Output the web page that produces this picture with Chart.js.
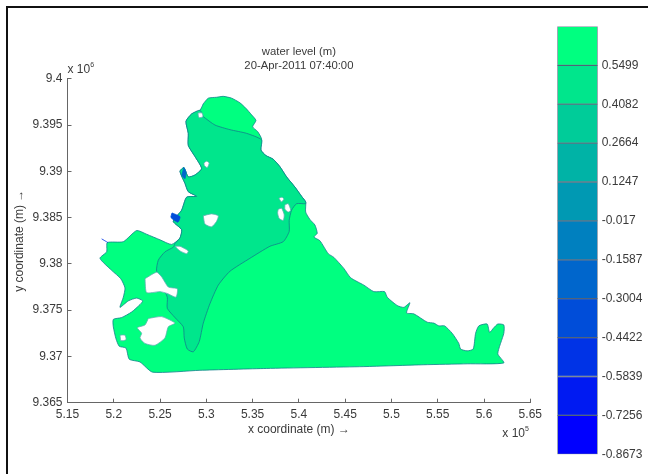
<!DOCTYPE html>
<html>
<head>
<meta charset="utf-8">
<title>water level (m)</title>
<script src="https://cdn.jsdelivr.net/npm/chart.js@4"></script>
<style>
    html, body { margin: 0; padding: 0; background: #fff; }
    #page { position: relative; width: 648px; height: 474px; overflow: hidden; }
    #frame { position: absolute; left: 6px; top: 6px; right: -4px; bottom: -4px; border-top: 2px solid #111; border-left: 2px solid #111; }
    #mapChart { position: absolute; left: 0; top: 0; }
    #barChart { position: absolute; left: 540px; top: 0; }
</style>
</head>
<body>
<div id="page">
    <canvas id="mapChart" width="648" height="474"></canvas>
    <canvas id="barChart" width="108" height="474"></canvas>
    <div id="frame"></div>
</div>
<script>
const xTicks = [5.15, 5.2, 5.25, 5.3, 5.35, 5.4, 5.45, 5.5, 5.55, 5.6, 5.65];
const yTicks = [9.365, 9.37, 9.375, 9.38, 9.385, 9.39, 9.395, 9.4];

// Contour levels, top of the colour bar first
const levels = [0.6916, 0.5499, 0.4082, 0.2664, 0.1247, -0.017, -0.1587, -0.3004, -0.4422, -0.5839, -0.7256, -0.8673];
const bandColors = ['#00ff80', '#00e68c', '#00cc99', '#00b3a6', '#0099b3', '#0080bf', '#0066cc', '#004dd9', '#0033e6', '#001af2', '#0000ff'];

// Model domain outline (x in 1e5 m, y in 1e6 m)
const coastX = [5.2967, 5.3021, 5.3111, 5.3183, 5.3273, 5.3363, 5.3428, 5.3489, 5.3536, 5.35, 5.3554, 5.3597, 5.359, 5.3644, 5.3723, 5.3795, 5.3867, 5.3957, 5.4029, 5.4073, 5.4073, 5.4119, 5.4173, 5.4198, 5.4162, 5.4227, 5.4317, 5.4378, 5.4486, 5.4559, 5.4702, 5.481, 5.4926, 5.4954, 5.5062, 5.5134, 5.5199, 5.5163, 5.5242, 5.5386, 5.5458, 5.5512, 5.5574, 5.5656, 5.5728, 5.5747, 5.5818, 5.5883, 5.5909, 5.5944, 5.6034, 5.606, 5.6106, 5.6149, 5.6214, 5.6214, 5.6149, 5.6214, 5.5818, 5.535, 5.4702, 5.3651, 5.2931, 5.242, 5.2283, 5.2167, 5.2132, 5.2059, 5.2024, 5.1995, 5.1995, 5.2085, 5.2193, 5.2283, 5.2312, 5.2247, 5.2157, 5.2067, 5.2103, 5.2121, 5.2075, 5.1977, 5.1851, 5.1923, 5.193, 5.2103, 5.2247, 5.2355, 5.2499, 5.2625, 5.2715, 5.2733, 5.2643, 5.2733, 5.2787, 5.2895, 5.2805, 5.2769, 5.2715, 5.2758, 5.2805, 5.2877, 5.2949, 5.2877, 5.2805, 5.2805, 5.278, 5.2841, 5.2931, 5.2967];
const coastY = [9.3973, 9.3979, 9.398, 9.3981, 9.3979, 9.3974, 9.3968, 9.3961, 9.3955, 9.3948, 9.3943, 9.3935, 9.3923, 9.3917, 9.3913, 9.3905, 9.3894, 9.3883, 9.3873, 9.3867, 9.3856, 9.3848, 9.3842, 9.3833, 9.3829, 9.3825, 9.3811, 9.3807, 9.3795, 9.3785, 9.3777, 9.377, 9.377, 9.3764, 9.3755, 9.3753, 9.3758, 9.3747, 9.3746, 9.3737, 9.3736, 9.3733, 9.3733, 9.3725, 9.3714, 9.3708, 9.3706, 9.3708, 9.3725, 9.3733, 9.3735, 9.3726, 9.3731, 9.3735, 9.3734, 9.3725, 9.3703, 9.3693, 9.3692, 9.3691, 9.3689, 9.3687, 9.3685, 9.3683, 9.3694, 9.3697, 9.3709, 9.3711, 9.3719, 9.3732, 9.374, 9.3742, 9.3748, 9.3756, 9.376, 9.3763, 9.376, 9.3753, 9.3764, 9.3774, 9.3784, 9.3793, 9.3806, 9.3813, 9.3823, 9.3824, 9.3836, 9.3832, 9.3826, 9.3821, 9.3828, 9.3837, 9.3846, 9.3858, 9.3872, 9.3873, 9.3878, 9.3887, 9.39, 9.3904, 9.3894, 9.3896, 9.3903, 9.3916, 9.3928, 9.3941, 9.3954, 9.3962, 9.3966, 9.3973];

// Area in the 0.4082 - 0.5499 band
const basinX = [5.2967, 5.3093, 5.3255, 5.3435, 5.3597, 5.359, 5.3644, 5.3723, 5.3795, 5.3867, 5.3957, 5.4029, 5.4073, 5.4073, 5.3975, 5.3921, 5.3895, 5.3895, 5.3831, 5.3687, 5.3471, 5.3255, 5.3129, 5.3039, 5.2967, 5.2923, 5.2859, 5.2794, 5.2761, 5.2751, 5.2661, 5.2578, 5.2578, 5.2463, 5.2481, 5.2553, 5.2643, 5.2661, 5.2715, 5.2733, 5.2643, 5.2733, 5.2787, 5.2895, 5.2805, 5.2769, 5.2715, 5.2758, 5.2805, 5.2877, 5.2949, 5.2877, 5.2805, 5.2805, 5.278, 5.2841, 5.2931, 5.2967];
const basinY = [9.3959, 9.395, 9.3945, 9.3941, 9.3934, 9.3923, 9.3917, 9.3913, 9.3905, 9.3894, 9.3883, 9.3873, 9.3867, 9.3865, 9.3865, 9.3858, 9.3847, 9.3835, 9.3824, 9.3819, 9.3806, 9.3792, 9.3777, 9.3757, 9.3736, 9.3716, 9.3705, 9.3708, 9.372, 9.3732, 9.3742, 9.3752, 9.3764, 9.3792, 9.3804, 9.3813, 9.3818, 9.3822, 9.3828, 9.3837, 9.3846, 9.3858, 9.3872, 9.3873, 9.3878, 9.3887, 9.39, 9.3904, 9.3894, 9.3896, 9.3903, 9.3916, 9.3928, 9.3941, 9.3954, 9.3962, 9.3966, 9.3959];

// Islands
const islandAX = [5.2967, 5.3057, 5.3129, 5.3111, 5.3057, 5.2985, 5.2967];
const islandAY = [9.3852, 9.3854, 9.3852, 9.3846, 9.384, 9.3843, 9.3852];
const islandBX = [5.2974, 5.3003, 5.3031, 5.301, 5.298, 5.2974];
const islandBY = [9.3909, 9.3911, 9.3909, 9.3904, 9.3906, 9.3909];
const islandCX = [5.2909, 5.2953, 5.2963, 5.292, 5.2909];
const islandCY = [9.3963, 9.3963, 9.3959, 9.3958, 9.3963];
const islandDX = [5.3784, 5.3817, 5.3838, 5.3811, 5.3784];
const islandDY = [9.3871, 9.3872, 9.387, 9.3867, 9.3871];
const islandEX = [5.3849, 5.3885, 5.3911, 5.3885, 5.3849, 5.3849];
const islandEY = [9.3864, 9.3865, 9.3858, 9.3856, 9.3859, 9.3864];
const islandFX = [5.3777, 5.3813, 5.3841, 5.3831, 5.3787, 5.377, 5.3777];
const islandFY = [9.3859, 9.386, 9.3853, 9.3847, 9.3849, 9.3855, 9.3859];
const islandGX = [5.2661, 5.2715, 5.2805, 5.2787, 5.2715, 5.2661];
const islandGY = [9.3819, 9.3819, 9.3814, 9.3811, 9.3814, 9.3819];
const islandHX = [5.2337, 5.2463, 5.2517, 5.2589, 5.2686, 5.2672, 5.2578, 5.2499, 5.2355, 5.2337];
const islandHY = [9.3784, 9.3791, 9.3786, 9.3775, 9.3773, 9.3764, 9.3768, 9.377, 9.3769, 9.3784];
const islandIX = [5.2373, 5.2517, 5.2661, 5.2589, 5.2553, 5.2445, 5.2337, 5.2283, 5.2301, 5.2254, 5.2337, 5.2373];
const islandIY = [9.3741, 9.3743, 9.3736, 9.3732, 9.372, 9.3712, 9.3714, 9.372, 9.3725, 9.3731, 9.3734, 9.3741];
const islandJX = [5.2067, 5.2121, 5.2132, 5.2078, 5.2067];
const islandJY = [9.3723, 9.3723, 9.3718, 9.3717, 9.3723];

// Small low water patches along the coast
const patchAX = [5.2629, 5.2715, 5.2693, 5.2618, 5.2629];
const patchAY = [9.3855, 9.3851, 9.3845, 9.385, 9.3855];
const patchBX = [5.2758, 5.278, 5.2769, 5.2737, 5.2758];
const patchBY = [9.3904, 9.3899, 9.3892, 9.3896, 9.3904];
const patchCX = [5.1869, 5.1937];
const patchCY = [9.3827, 9.3823];

const FONT = 'Liberation Sans, Arial, sans-serif';
const TEXT = '#3a3a3a';
const EDGE = '#12808c';

const polygon = (xs, ys, fill, line) => ({
    data: xs.map((x, i) => ({ x, y: ys[i] })),
    showLine: true,
    fill: 'shape',
    backgroundColor: fill,
    borderColor: line,
    borderWidth: 0.8,
    pointRadius: 0,
    tension: 0.2
});

// First dataset is painted last
const islands = [
    [islandAX, islandAY], [islandBX, islandBY], [islandCX, islandCY], [islandDX, islandDY], [islandEX, islandEY],
    [islandFX, islandFY], [islandGX, islandGY], [islandHX, islandHY], [islandIX, islandIY], [islandJX, islandJY]
];
const mapDatasets = [
    polygon(patchAX, patchAY, bandColors[7], bandColors[7]),
    polygon(patchBX, patchBY, bandColors[6], bandColors[6]),
    polygon(patchCX, patchCY, bandColors[8], bandColors[8]),
    ...islands.map(([xs, ys]) => polygon(xs, ys, '#ffffff', '#5fb0b0')),
    polygon(basinX, basinY, bandColors[1], EDGE),
    polygon(coastX, coastY, bandColors[0], EDGE)
];

// MATLAB style exponent notes next to the axes
const exponentNotes = {
    id: 'exponentNotes',
    afterDraw(chart) {
        const { ctx, chartArea } = chart;
        const note = (x, y, base, exp) => {
            ctx.font = '12px ' + FONT;
            ctx.fillText(base, x, y);
            const w = ctx.measureText(base).width;
            ctx.font = '7px ' + FONT;
            ctx.fillText(exp, x + w, y - 5);
        };
        ctx.save();
        ctx.fillStyle = TEXT;
        ctx.textAlign = 'left';
        ctx.textBaseline = 'middle';
        note(chartArea.left, chartArea.top - 9, 'x 10', '6');
        note(chartArea.right - 28, chartArea.bottom + 31, 'x 10', '5');
        ctx.restore();
    }
};

new Chart(document.getElementById('mapChart'), {
    type: 'scatter',
    data: { datasets: mapDatasets },
    plugins: [exponentNotes],
    options: {
        responsive: false,
        animation: false,
        devicePixelRatio: 1,
        layout: { padding: { left: 12, right: 117.7, top: 45, bottom: 37.3 } },
        plugins: {
            legend: { display: false },
            tooltip: { enabled: false },
            title: {
                display: true,
                fullSize: false,
                text: ['water level (m)', '20-Apr-2011 07:40:00'],
                color: TEXT,
                font: { family: FONT, size: 11.3, weight: 'normal', lineHeight: 1.25 },
                padding: { top: 0, bottom: 5.5 }
            }
        },
        scales: {
            x: {
                type: 'linear',
                min: 5.15,
                max: 5.65,
                afterBuildTicks: axis => { axis.ticks = xTicks.map(value => ({ value })); },
                afterFit: axis => { axis.height = 34; },
                ticks: { color: TEXT, font: { family: FONT, size: 12 }, padding: 9, maxRotation: 0, autoSkip: false, callback: v => String(v) },
                grid: { drawOnChartArea: false, tickLength: -4, tickColor: '#666' },
                border: { color: '#666', width: 1 },
                title: { display: true, text: 'x coordinate (m) \u2192', color: TEXT, font: { family: FONT, size: 12 }, padding: 0 }
            },
            y: {
                type: 'linear',
                min: 9.365,
                max: 9.4,
                afterBuildTicks: axis => { axis.ticks = yTicks.map(value => ({ value })); },
                afterFit: axis => { axis.width = 55.5; },
                ticks: { color: TEXT, font: { family: FONT, size: 12 }, padding: 9, autoSkip: false, callback: v => String(v) },
                grid: { drawOnChartArea: false, tickLength: -4, tickColor: '#666' },
                border: { color: '#666', width: 1 },
                title: { display: true, text: 'y coordinate (m) \u2192', color: TEXT, font: { family: FONT, size: 12 }, padding: 0 }
            }
        }
    }
});

// Colour bar, one floating bar per band
new Chart(document.getElementById('barChart'), {
    type: 'bar',
    data: {
        labels: ['band'],
        datasets: bandColors.map((color, i) => ({
            data: [[levels[i + 1], levels[i]]],
            backgroundColor: color,
            borderColor: 'rgba(0, 30, 60, 0.55)',
            borderWidth: 1,
            borderSkipped: false,
            barPercentage: 1,
            categoryPercentage: 1
        }))
    },
    options: {
        responsive: false,
        animation: false,
        devicePixelRatio: 1,
        layout: { padding: { left: 17.3, right: 0, top: 26.4, bottom: 19.7 } },
        plugins: { legend: { display: false }, tooltip: { enabled: false } },
        scales: {
            x: { display: false, stacked: true },
            y: {
                position: 'right',
                min: levels[levels.length - 1],
                max: levels[0],
                afterBuildTicks: axis => { axis.ticks = levels.slice(1).map(value => ({ value })); },
                afterFit: axis => { axis.width = 50.3; },
                ticks: { color: TEXT, font: { family: FONT, size: 12 }, padding: 4, autoSkip: false, callback: v => String(v) },
                grid: { display: false, drawTicks: false },
                border: { display: false }
            }
        }
    }
});
</script>
</body>
</html>
